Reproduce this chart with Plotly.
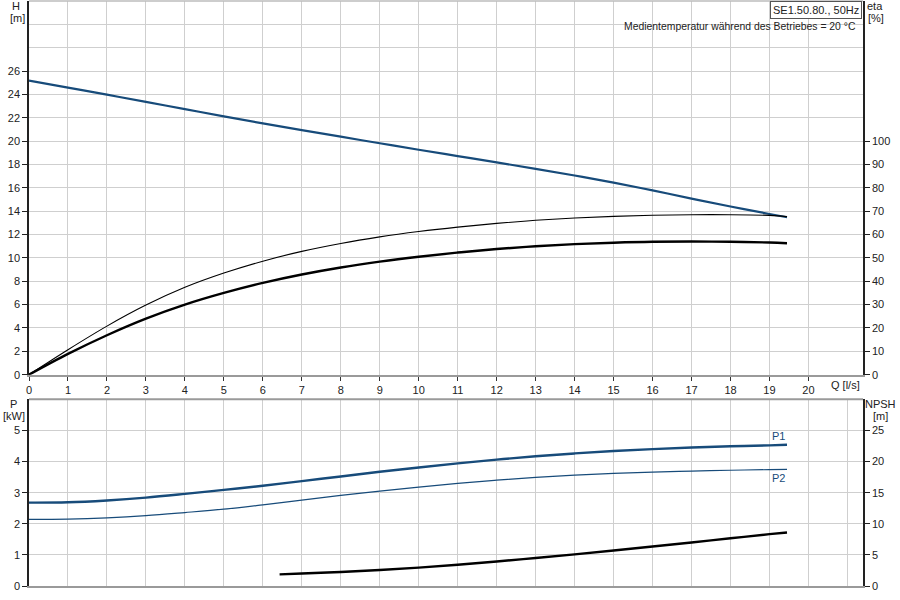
import plotly.graph_objects as go

# flow rate Q [l/s]
q = [0, 1, 2, 3, 4, 5, 6, 7, 8, 9, 10, 11, 12, 13, 14, 15, 16, 17, 18, 19, 19.45]

head_m = [25.18, 24.58, 23.98, 23.36, 22.74, 22.12, 21.52, 20.94, 20.38, 19.82, 19.26,
          18.72, 18.18, 17.63, 17.06, 16.45, 15.78, 15.08, 14.40, 13.76, 13.48]
eta_pump = [0, 10.7, 20.8, 29.8, 37.4, 43.5, 48.6, 52.8, 56.2, 59.0, 61.3,
            63.2, 64.8, 66.1, 67.1, 67.8, 68.3, 68.5, 68.5, 68.2, 67.7]
eta_total = [0, 8.9, 16.9, 24.0, 30.0, 35.0, 39.3, 42.9, 45.9, 48.4, 50.5,
             52.3, 53.8, 55.0, 55.9, 56.5, 56.9, 57.0, 56.9, 56.6, 56.3]

p1_kw = [2.68, 2.69, 2.75, 2.84, 2.96, 3.09, 3.22, 3.37, 3.52, 3.67, 3.81,
         3.94, 4.06, 4.17, 4.26, 4.34, 4.40, 4.45, 4.49, 4.52, 4.54]
p2_kw = [2.14, 2.15, 2.19, 2.26, 2.36, 2.47, 2.61, 2.76, 2.91, 3.05, 3.18,
         3.30, 3.40, 3.49, 3.56, 3.62, 3.66, 3.69, 3.72, 3.74, 3.75]

q_npsh = [6.43, 7, 8, 9, 10, 11, 12, 13, 14, 15, 16, 17, 18, 19, 19.45]
npsh_m = [1.87, 2.0, 2.25, 2.57, 2.95, 3.42, 3.94, 4.49, 5.08, 5.70, 6.34, 7.0, 7.67, 8.33, 8.6]

h_ticks = list(range(0, 27, 2))
eta_ticks = list(range(0, 101, 10))
p_ticks = [0, 1, 2, 3, 4, 5]
npsh_ticks = [0, 5, 10, 15, 20, 25]
q_ticks = list(range(0, 21))

W, H = 900, 600
L, R, T, B = 29, 37, 1, 14
BLUE = "#174b7a"
GRID = "#cfcfcf"
FONT = dict(family="Liberation Sans, Arial, sans-serif", size=11, color="#222222")


def px(x):
    return (x - L) / (W - L - R)


def py(y):
    return 1 - (y - T) / (H - T - B)


fig = go.Figure()

fig.add_trace(go.Scatter(x=q, y=head_m, mode="lines", line=dict(color=BLUE, width=2.2, shape="spline"),
                         xaxis="x", yaxis="y", showlegend=False))
fig.add_trace(go.Scatter(x=q, y=eta_pump, mode="lines", line=dict(color="black", width=1.1, shape="spline"),
                         xaxis="x", yaxis="y2", showlegend=False))
fig.add_trace(go.Scatter(x=q, y=eta_total, mode="lines", line=dict(color="black", width=2.4, shape="spline"),
                         xaxis="x", yaxis="y2", showlegend=False))

fig.add_trace(go.Scatter(x=q, y=p1_kw, mode="lines", line=dict(color=BLUE, width=2.4, shape="spline"),
                         xaxis="x2", yaxis="y3", showlegend=False))
fig.add_trace(go.Scatter(x=q, y=p2_kw, mode="lines", line=dict(color=BLUE, width=1.2, shape="spline"),
                         xaxis="x2", yaxis="y3", showlegend=False))
fig.add_trace(go.Scatter(x=q_npsh, y=npsh_m, mode="lines", line=dict(color="black", width=2.4, shape="spline"),
                         xaxis="x2", yaxis="y4", showlegend=False))

top_dom = [py(374.7), 1]
bot_dom = [0, py(399.3)]

common_x = dict(range=[0, 21.4], showgrid=True, gridcolor=GRID, gridwidth=1, dtick=1, tick0=0,
                zeroline=False, showline=True, linecolor="#9a9a9a", linewidth=2,
                mirror=False, fixedrange=True, automargin=False)
common_y = dict(zeroline=False, showline=True, linecolor="#222222", linewidth=1.5,
                ticks="outside", ticklen=5, tickcolor="#222222", automargin=False,
                tickmode="array")

fig.update_layout(
    width=W, height=H,
    margin=dict(l=L, r=R, t=T, b=B, autoexpand=False),
    paper_bgcolor="white", plot_bgcolor="white",
    font=FONT,
    xaxis=dict(common_x, anchor="y", tickmode="array", tickvals=q_ticks,
               ticks="outside", ticklen=4, tickcolor="#333333"),
    xaxis2=dict(common_x, anchor="y3", matches="x", showticklabels=False, ticks=""),
    yaxis=dict(common_y, domain=top_dom, range=[0, 32], tickvals=h_ticks,
               showgrid=True, gridcolor=GRID,
               minor=dict(tickvals=[28, 30], showgrid=True, gridcolor=GRID, ticks="")),
    yaxis2=dict(common_y, overlaying="y", side="right", range=[0, 160], tickvals=eta_ticks,
                showgrid=False, anchor="x"),
    yaxis3=dict(common_y, domain=bot_dom, range=[0, 6], tickvals=p_ticks, anchor="x2",
                showgrid=True, gridcolor=GRID),
    yaxis4=dict(common_y, overlaying="y3", side="right", range=[0, 30], tickvals=npsh_ticks,
                showgrid=False, anchor="x2"),
)

# top borders of both panels
fig.add_shape(type="line", xref="paper", yref="paper", x0=0, x1=1, y0=1, y1=1,
              line=dict(color="#bdbdbd", width=1.5))
fig.add_shape(type="line", xref="paper", yref="paper", x0=0, x1=1, y0=bot_dom[1], y1=bot_dom[1],
              line=dict(color="#9a9a9a", width=2))

texts = [
    ("H", 16, 6, "center", 11), ("[m]", 17, 18, "center", 11),
    ("eta", 875, 6, "center", 11), ("[%]", 876, 18, "center", 11),
    ("P", 13, 404, "center", 11), ("[kW]", 14, 416, "center", 11),
    ("NPSH", 880, 404, "center", 11), ("[m]", 880, 416, "center", 11),
    ("Q [l/s]", 845, 385, "center", 11),
    ("Medientemperatur während des Betriebes = 20 °C", 858, 27, "right", 10.4),
]
for txt, x, y, anchor, size in texts:
    fig.add_annotation(text=txt, x=px(x), y=py(y), xref="paper", yref="paper",
                       xanchor=anchor, yanchor="middle", showarrow=False, font=dict(FONT, size=size))

fig.add_annotation(text="SE1.50.80., 50Hz", x=px(862), y=py(1), xref="paper", yref="paper",
                   xanchor="right", yanchor="top", showarrow=False, font=FONT,
                   bordercolor="#555555", borderwidth=1, borderpad=2, bgcolor="white")

fig.add_annotation(text="P1", x=q[-1], y=p1_kw[-1], xref="x2", yref="y3", xanchor="right",
                   yanchor="bottom", yshift=1, showarrow=False, font=dict(FONT, color=BLUE))
fig.add_annotation(text="P2", x=q[-1], y=p2_kw[-1], xref="x2", yref="y3", xanchor="right",
                   yanchor="top", yshift=-1, showarrow=False, font=dict(FONT, color=BLUE))

# page body has a default 8px margin; drop it so the 900x600 figure fills the window
fig.write_html("out.html", config={"displayModeBar": False},
               post_script="document.body.style.margin = '0';")
